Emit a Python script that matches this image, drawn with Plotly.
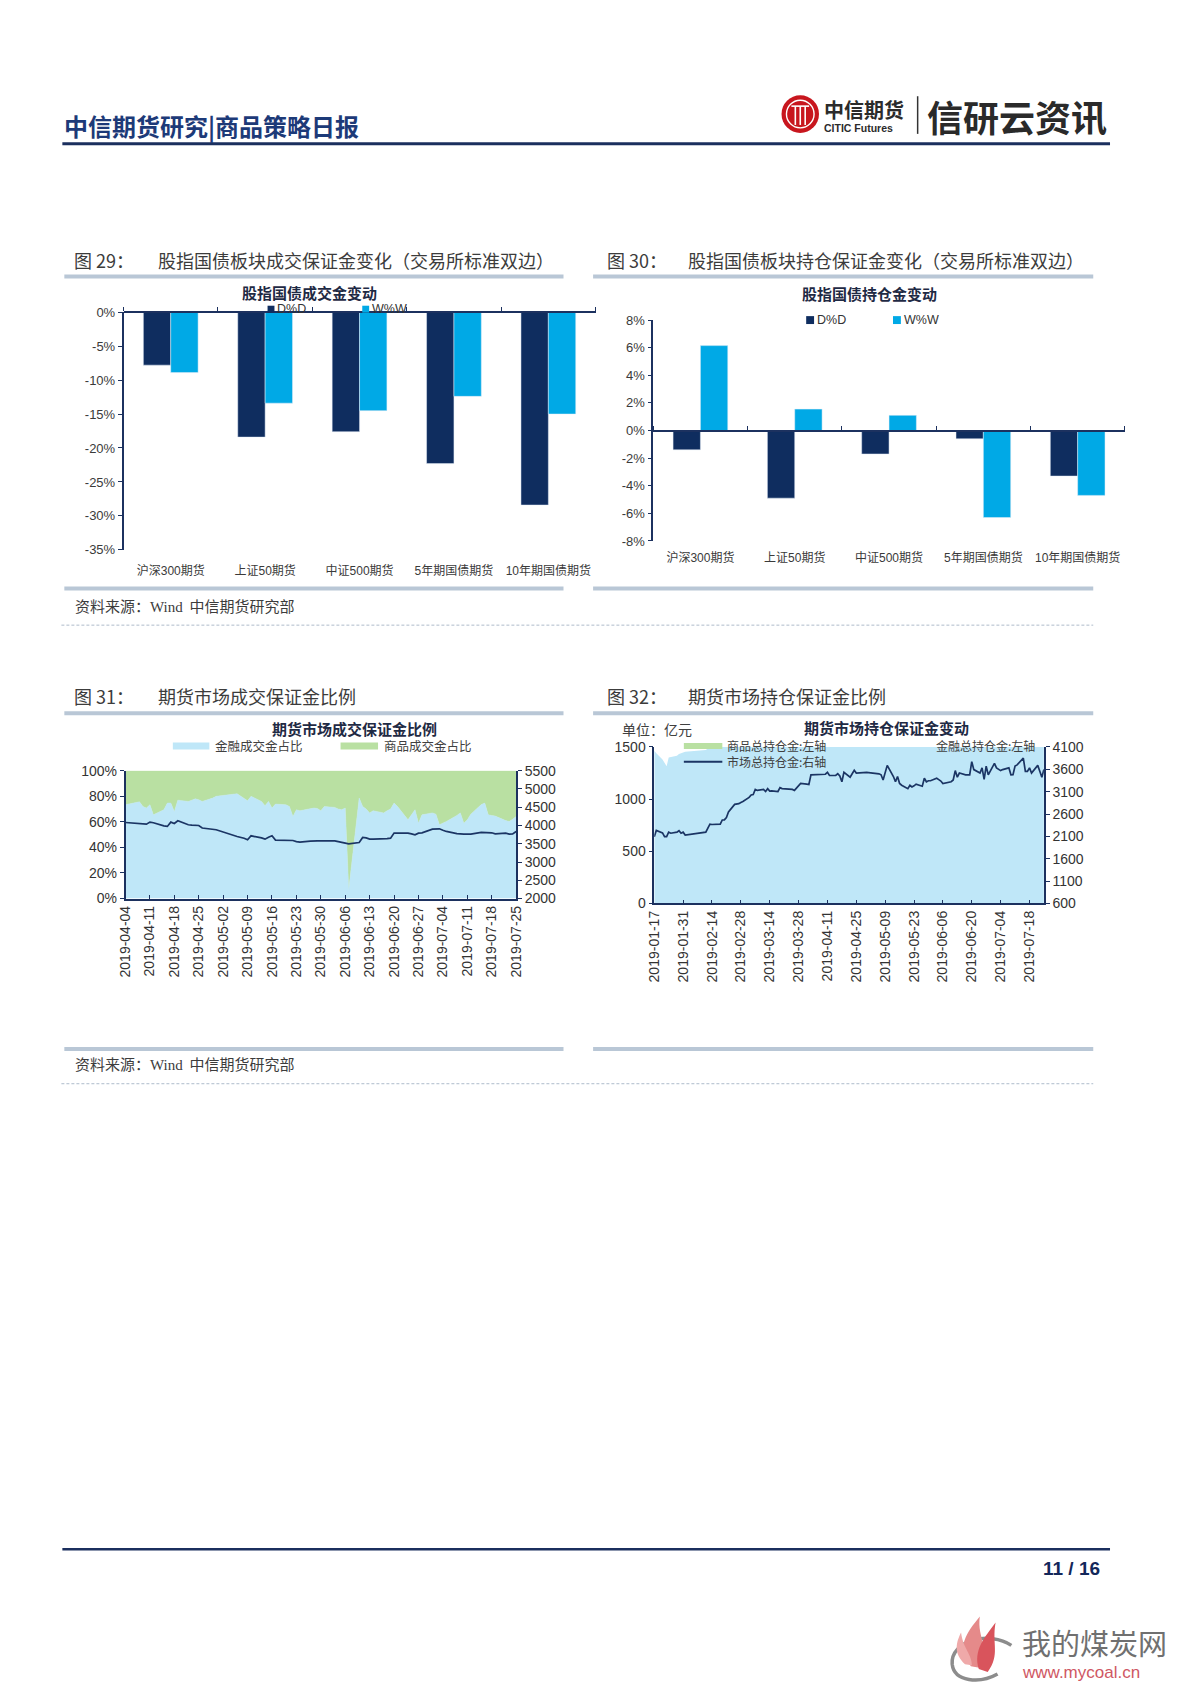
import plotly.graph_objects as go

PAGE_W, PAGE_H = 1200, 1696
BODY = 8                      # default page margin around the plot div
FW, FH = PAGE_W - 2 * BODY, PAGE_H - 2 * BODY
def px(x): return (x - BODY) / FW
def py(y): return 1 - (y - BODY) / FH

NAVY = "#0f2d5f"
CYAN = "#00a9e6"
AXIS = "#1c315f"
LBLUE = "#bfe7f8"
GREEN = "#b9e0a2"
LINEC = "#1b3564"
CAPLINE = "#b9c7d6"
TXT = "#3a3a3a"
CJK = "Noto Sans CJK SC"
LAT = "Liberation Sans, Noto Sans CJK SC"

# ---------------- data ----------------
cats = ["沪深300期货", "上证50期货", "中证500期货", "5年期国债期货", "10年期国债期货"]
turnover_dod = [-7.8, -18.4, -17.6, -22.3, -28.4]
turnover_wow = [-8.9, -13.4, -14.5, -12.4, -15.0]
oi_dod = [-1.4, -4.9, -1.7, -0.6, -3.3]
oi_wow = [6.15, 1.55, 1.1, -6.3, -4.7]

c29_tickvals = [0, -5, -10, -15, -20, -25, -30, -35]
c29_ticktext = ["0%", "-5%", "-10%", "-15%", "-20%", "-25%", "-30%", "-35%"]
c30_tickvals = [8, 6, 4, 2, 0, -2, -4, -6, -8]
c30_ticktext = ["8%", "6%", "4%", "2%", "0%", "-2%", "-4%", "-6%", "-8%"]

d31 = ["04-04", "04-08", "04-09", "04-10", "04-11", "04-12", "04-15", "04-16", "04-17", "04-18", "04-19",
       "04-22", "04-23", "04-24", "04-25", "04-26", "04-29", "04-30",
       "05-06", "05-07", "05-08", "05-09", "05-10", "05-13", "05-14", "05-15", "05-16", "05-17",
       "05-20", "05-21", "05-22", "05-23", "05-24", "05-27", "05-28", "05-29", "05-30", "05-31",
       "06-03", "06-04", "06-05", "06-06", "06-07", "06-10", "06-11", "06-12", "06-13", "06-14",
       "06-17", "06-18", "06-19", "06-20", "06-21", "06-24", "06-25", "06-26", "06-27", "06-28",
       "07-01", "07-02", "07-03", "07-04", "07-05", "07-08", "07-09", "07-10", "07-11", "07-12",
       "07-15", "07-16", "07-17", "07-18", "07-19", "07-22", "07-23", "07-24", "07-25"]
fin_share31 = [73.4, 75.7, 72.0, 70.8, 73.4, 65.5, 69.5, 74.7, 74.7, 68.0, 77.0,
               76.0, 77.0, 78.0, 77.3, 76.0, 78.6, 80.0,
               82.0, 80.0, 78.6, 76.5, 80.0, 76.0, 72.6, 76.0, 70.8, 73.9,
               73.4, 72.0, 64.2, 69.5, 68.7, 70.0, 70.8, 70.5, 68.7, 72.0,
               71.3, 70.0, 69.5, 70.8, 6.8, 78.6, 72.0, 70.0, 67.0, 68.7,
               67.0, 68.7, 70.0, 74.7, 72.0, 61.6, 66.0, 69.5, 59.0, 65.5,
               67.0, 66.0, 57.7, 59.0, 60.3, 65.0, 67.0, 59.0, 61.6, 66.0,
               73.5, 74.7, 65.5, 65.0, 64.5, 61.0, 60.3, 62.0, 64.2]
com_share31 = [26.6, 24.3, 28.0, 29.2, 26.6, 34.5, 30.5, 25.3, 25.3, 32.0, 23.0,
               24.0, 23.0, 22.0, 22.7, 24.0, 21.4, 20.0,
               18.0, 20.0, 21.4, 23.5, 20.0, 24.0, 27.4, 24.0, 29.2, 26.1,
               26.6, 28.0, 35.8, 30.5, 31.3, 30.0, 29.2, 29.5, 31.3, 28.0,
               28.7, 30.0, 30.5, 29.2, 93.2, 21.4, 28.0, 30.0, 33.0, 31.3,
               33.0, 31.3, 30.0, 25.3, 28.0, 38.4, 34.0, 30.5, 41.0, 34.5,
               33.0, 34.0, 42.3, 41.0, 39.7, 35.0, 33.0, 41.0, 38.4, 34.0,
               26.5, 25.3, 34.5, 35.0, 35.5, 39.0, 39.7, 38.0, 35.8]
total31 = [4083, 4060, 4050, 4038, 4093, 4075, 3990, 3974, 4093, 4056, 4129,
           4020, 4010, 4001, 4001, 3930, 3883, 3883,
           3700, 3681, 3650, 3608, 3718, 3660, 3627, 3680, 3718, 3600,
           3590, 3590, 3590, 3560, 3544, 3570, 3581, 3581, 3581, 3581,
           3581, 3560, 3540, 3517, 3499, 3535, 3672, 3660, 3627, 3627,
           3627, 3640, 3654, 3791, 3791, 3791, 3770, 3745, 3791, 3800,
           3900, 3910, 3910, 3870, 3837, 3780, 3764, 3764, 3764, 3764,
           3809, 3809, 3809, 3800, 3773, 3790, 3764, 3770, 3837]

d32 = ["01-17", "01-18", "01-21", "01-22", "01-23", "01-24", "01-25", "01-28", "01-29", "01-30", "01-31",
       "02-01", "02-11", "02-12", "02-13", "02-14", "02-15", "02-18", "02-19", "02-20", "02-21", "02-22",
       "02-25", "02-26", "02-27", "02-28",
       "03-01", "03-04", "03-05", "03-06", "03-07", "03-08", "03-11", "03-12", "03-13", "03-14", "03-15",
       "03-18", "03-19", "03-20", "03-21", "03-22", "03-25", "03-26", "03-27", "03-28", "03-29",
       "04-01", "04-02", "04-03", "04-04", "04-08", "04-09", "04-10", "04-11", "04-12", "04-15", "04-16",
       "04-17", "04-18", "04-19", "04-22", "04-23", "04-24", "04-25", "04-26", "04-29", "04-30",
       "05-06", "05-07", "05-08", "05-09", "05-10", "05-13", "05-14", "05-15", "05-16", "05-17",
       "05-20", "05-21", "05-22", "05-23", "05-24", "05-27", "05-28", "05-29", "05-30", "05-31",
       "06-03", "06-04", "06-05", "06-06", "06-10", "06-11", "06-12", "06-13", "06-14",
       "06-17", "06-18", "06-19", "06-20", "06-21", "06-24", "06-25", "06-26", "06-27", "06-28",
       "07-01", "07-02", "07-03", "07-04", "07-05", "07-08", "07-09", "07-10", "07-11", "07-12",
       "07-15", "07-16", "07-17", "07-18", "07-19", "07-22", "07-23", "07-24", "07-25"]
total32 = [2090, 2233, 2179, 2093, 2093, 2194, 2171, 2194, 2226, 2171, 2194,
           2132, 2194, 2300, 2373, 2366, 2370, 2373, 2467, 2470, 2521, 2646,
           2817, 2820, 2832, 2860,
           2879, 2972, 3027, 3035, 3151, 3128, 3151, 3104, 3167, 3112, 3120,
           3104, 3190, 3170, 3167, 3160, 3151, 3128, 3180, 3229, 3283,
           3270, 3260, 3478, 3478, 3478, 3480, 3490, 3532, 3462, 3462, 3501,
           3450, 3322, 3532, 3423, 3500, 3579, 3517, 3520, 3532, 3530,
           3500, 3478, 3361, 3550, 3688, 3439, 3322, 3439, 3283, 3244,
           3167, 3244, 3205, 3230, 3268, 3221, 3400, 3322, 3345, 3345,
           3400, 3370, 3338, 3283, 3322, 3361, 3571, 3423, 3517,
           3478, 3480, 3478, 3773, 3594, 3517, 3633, 3377, 3672, 3478,
           3734, 3633, 3600, 3571, 3594, 3633, 3478, 3480, 3672, 3700,
           3851, 3555, 3555, 3633, 3517, 3688, 3555, 3423, 3594]
fin32_dates = ["01-17", "01-18", "01-21", "01-22", "01-23", "01-24", "01-25", "01-28", "01-29", "01-30",
               "01-31", "02-01", "02-11", "02-12", "02-13", "03-01", "04-01", "05-10", "06-03", "07-01", "07-25"]
fin32 = [1464, 1440, 1381, 1340, 1315, 1399, 1405, 1417, 1432, 1440,
         1450, 1455, 1470, 1485, 1510, 1530, 1540, 1560, 1540, 1560, 1550]

Y = "2019-"
d31 = [Y + d for d in d31]
d32 = [Y + d for d in d32]
fin32_dates = [Y + d for d in fin32_dates]

# ---------------- traces ----------------
fig = go.Figure()
# chart 29
fig.add_trace(go.Bar(x=cats, y=turnover_dod, marker_color=NAVY, name="D%D", xaxis="x", yaxis="y", showlegend=False))
fig.add_trace(go.Bar(x=cats, y=turnover_wow, marker_color=CYAN, name="W%W", xaxis="x", yaxis="y", showlegend=False))
fig.add_trace(go.Scatter(x=cats, y=[None] * len(cats), mode="lines", xaxis="x5", yaxis="y", showlegend=False, hoverinfo="skip"))
# chart 30
fig.add_trace(go.Bar(x=cats, y=oi_dod, marker_color=NAVY, name="D%D", xaxis="x2", yaxis="y2", showlegend=False))
fig.add_trace(go.Bar(x=cats, y=oi_wow, marker_color=CYAN, name="W%W", xaxis="x2", yaxis="y2", showlegend=False))
fig.add_trace(go.Scatter(x=cats, y=[None] * len(cats), mode="lines", xaxis="x6", yaxis="y2", showlegend=False, hoverinfo="skip"))
# chart 31
fig.add_trace(go.Scatter(x=d31, y=fin_share31, stackgroup="s31", mode="lines", line=dict(width=0.5, color=LBLUE),
                         fillcolor=LBLUE, xaxis="x3", yaxis="y3", showlegend=False, name="金融成交金占比"))
fig.add_trace(go.Scatter(x=d31, y=com_share31, stackgroup="s31", mode="lines", line=dict(width=0.5, color=GREEN),
                         fillcolor=GREEN, xaxis="x3", yaxis="y3", showlegend=False, name="商品成交金占比"))
fig.add_trace(go.Scatter(x=d31, y=total31, mode="lines", line=dict(width=1.7, color=LINEC),
                         xaxis="x3", yaxis="y4", showlegend=False))
# chart 32
fig.add_trace(go.Scatter(x=fin32_dates, y=fin32, fill="tozeroy", mode="lines", line=dict(width=0, color=LBLUE),
                         fillcolor=LBLUE, xaxis="x4", yaxis="y5", showlegend=False, name="金融总持仓金:左轴"))
fig.add_trace(go.Scatter(x=d32, y=total32, mode="lines", line=dict(width=1.7, color=LINEC),
                         xaxis="x4", yaxis="y6", showlegend=False, name="市场总持仓金:右轴"))

# ---------------- axes ----------------
tickf = dict(family=LAT, size=13, color=TXT)
catf = dict(family=LAT, size=12, color=TXT)
tickf14 = dict(family=LAT, size=14, color="#333333")

c29_dom_y = [py(547), py(307)]
c30_dom_y = [py(538), py(315)]
c30_range = [-8, 8]
c30_zero = c30_dom_y[0] + (c30_dom_y[1] - c30_dom_y[0]) * (0 - c30_range[0]) / (c30_range[1] - c30_range[0])

common_y = dict(showgrid=False, zeroline=False, showline=True, linecolor=AXIS, linewidth=1.5,
                ticks="outside", ticklen=4, tickcolor=AXIS)
cat_x = dict(type="category", range=[-0.5, 4.5], showgrid=False, zeroline=False, showline=False,
             ticks="", tickfont=catf)
tick_x = dict(type="category", range=[-0.5, 4.5], showgrid=False, zeroline=False, showline=True,
              linecolor=AXIS, linewidth=1.5, ticks="outside", tickson="boundaries", ticklen=4,
              tickcolor=AXIS, showticklabels=False, side="top", anchor="free")

fig.update_layout(
    xaxis=dict(domain=[px(117), px(595.5)], anchor="y", ticklabelstandoff=12, **cat_x),
    yaxis=dict(domain=c29_dom_y, anchor="x", range=[-35, 0], tickvals=c29_tickvals, ticktext=c29_ticktext,
               tickfont=tickf, **common_y),
    xaxis5=dict(overlaying="x", position=c29_dom_y[1], **tick_x),
    xaxis2=dict(domain=[px(654), px(1132)], anchor="y2", ticklabelstandoff=8, **cat_x),
    yaxis2=dict(domain=c30_dom_y, anchor="x2", range=c30_range, tickvals=c30_tickvals, ticktext=c30_ticktext,
                tickfont=tickf, **common_y),
    xaxis6=dict(overlaying="x2", position=c30_zero, **tick_x),
    xaxis3=dict(domain=[px(119), px(515)], anchor="y3", type="date",
                range=["2019-04-04", "2019-07-25"], tick0="2019-04-04", dtick=7 * 86400000,
                tickformat="%Y-%m-%d", tickangle=-90, ticks="inside", ticklen=4, tickcolor=AXIS,
                showline=True, linecolor=AXIS, linewidth=1.5, showgrid=False, zeroline=False,
                tickfont=tickf14),
    yaxis3=dict(domain=[py(899), py(770)], anchor="x3", range=[0, 100], dtick=20, ticksuffix="%",
                tickfont=tickf14, **common_y),
    yaxis4=dict(overlaying="y3", side="right", anchor="x3", range=[2000, 5500], tick0=2000, dtick=500,
                tickfont=tickf14, **common_y),
    xaxis4=dict(domain=[px(655), px(1050)], anchor="y5", type="date",
                range=["2019-01-17", "2019-07-25"], tick0="2019-01-17", dtick=14 * 86400000,
                tickformat="%Y-%m-%d", tickangle=-90, ticks="inside", ticklen=4, tickcolor=AXIS,
                showline=True, linecolor=AXIS, linewidth=1.5, showgrid=False, zeroline=False,
                tickfont=tickf14),
    yaxis5=dict(domain=[py(904), py(746)], anchor="x4", range=[0, 1500], dtick=500,
                tickfont=tickf14, **common_y),
    yaxis6=dict(overlaying="y5", side="right", anchor="x4", range=[600, 4100], tick0=600, dtick=500,
                tickfont=tickf14, **common_y),
    barmode="group", bargap=0.42, bargroupgap=0,
    width=FW, height=FH, margin=dict(l=0, r=0, t=0, b=0, pad=0),
    paper_bgcolor="white", plot_bgcolor="rgba(0,0,0,0)",
    font=dict(family=LAT, color=TXT),
    showlegend=False,
)

# ---------------- shapes ----------------
shapes = []
def hline(x0, x1, y, color, width, dash=None):
    d = dict(type="line", xref="paper", yref="paper", x0=px(x0), x1=px(x1), y0=py(y), y1=py(y),
             line=dict(color=color, width=width))
    if dash:
        d["line"]["dash"] = dash
    shapes.append(d)

def rect(x0, y0, x1, y1, color):
    shapes.append(dict(type="rect", xref="paper", yref="paper", x0=px(x0), x1=px(x1), y0=py(y1), y1=py(y0),
                       fillcolor=color, line=dict(width=0)))

def path(points_cmd, fill=None, stroke=None, width=0):
    s = ""
    for cmd, pts in points_cmd:
        s += cmd + " ".join("%.5f,%.5f" % (px(a), py(b)) for a, b in pts) + " "
    if fill:
        s += "Z"
    d = dict(type="path", xref="paper", yref="paper", path=s.strip(),
             line=dict(color=stroke or "rgba(0,0,0,0)", width=width))
    if fill:
        d["fillcolor"] = fill
    shapes.append(d)

# header / footer rules
hline(55, 1117, 137, "#1b2f5e", 3)
hline(55, 1117, 1556, "#1b2f5e", 2.5)
# caption rules
for y in (271, 586, 712, 1051):
    hline(57, 563, y, CAPLINE, 4)
    hline(593, 1100, y, CAPLINE, 4)
hline(54, 1100, 623, "#aebbcb", 1, "3px,2px")
hline(54, 1100, 1086, "#aebbcb", 1, "3px,2px")

# legend swatches
rect(263, 300.5, 270, 307.5, NAVY)
rect(359, 300.5, 366, 307.5, CYAN)
rect(809, 311, 817, 319, NAVY)
rect(897, 311, 905, 319, CYAN)
rect(167, 741.5, 204, 748.5, LBLUE)
rect(337, 741.5, 375, 748.5, GREEN)
rect(685, 742, 724, 748, GREEN)
hline(685, 724, 761, LINEC, 2)

# header logo (CITIC)
shapes.append(dict(type="circle", xref="paper", yref="paper", x0=px(784), x1=px(822), y0=py(126), y1=py(88),
                   fillcolor="#c8161e", line=dict(width=0)))
shapes.append(dict(type="circle", xref="paper", yref="paper", x0=px(789), x1=px(817), y0=py(121), y1=py(93),
                   line=dict(color="white", width=1.4)))
for xx in (798, 803, 808):
    shapes.append(dict(type="line", xref="paper", yref="paper", x0=px(xx), x1=px(xx), y0=py(118), y1=py(99),
                       line=dict(color="white", width=1.6)))
shapes.append(dict(type="line", xref="paper", yref="paper", x0=px(794), x1=px(812), y0=py(99), y1=py(99),
                   line=dict(color="white", width=1.6)))
shapes.append(dict(type="line", xref="paper", yref="paper", x0=px(922), x1=px(922), y0=py(127), y1=py(89),
                   line=dict(color="#333333", width=1.5)))

# watermark flame
path([("M", [(1017, 1653)]), ("C", [(995, 1638), (955, 1648), (957, 1672)]),
      ("C", [(959, 1690), (985, 1692), (1003, 1682)])], stroke="#8c8c8c", width=3.5)
path([("M", [(976, 1674)]), ("C", [(960, 1655), (972, 1640), (985, 1624)]),
      ("C", [(982, 1646), (996, 1656), (986, 1676)])], fill="#e58a8a")
path([("M", [(984, 1677)]), ("C", [(978, 1658), (990, 1645), (1001, 1630)]),
      ("C", [(997, 1652), (1006, 1662), (993, 1680)])], fill="#d9545c")
path([("M", [(970, 1672)]), ("C", [(958, 1661), (961, 1650), (966, 1640)]),
      ("C", [(968, 1656), (977, 1662), (977, 1673)])], fill="#efa9a9")

fig.update_layout(shapes=shapes)

# ---------------- annotations ----------------
ann = []
def text(x, y, s, size, color=TXT, family=CJK, anchor="left"):
    ann.append(dict(xref="paper", yref="paper", x=px(x), y=py(y), text=s, showarrow=False, borderpad=0,
                    xanchor=anchor, yanchor="middle", font=dict(family=family, size=size, color=color)))

# header
text(56, 119, "<b>中信期货研究|商品策略日报</b>", 24, "#1d3a78")
text(826, 102, "<b>中信期货</b>", 20, "#2b2b2b")
text(826, 121, "<b>CITIC Futures</b>", 10.5, "#2b2b2b", "Liberation Sans")
text(930, 109, "<b>信研云资讯</b>", 36, "#2a2a2a")
# footer
text(1108, 1575, "<b>11 / 16</b>", 19, "#13275a", "Liberation Sans", "right")
text(1027, 1650, "我的煤炭网", 29, "#707070")
text(1027, 1680, "www.mycoal.cn", 17, "#cf5763", "Liberation Sans")

# captions
text(66, 254, "图 29：", 18, "#3c3c3c")
text(151, 254, "股指国债板块成交保证金变化（交易所标准双边）", 18, "#3c3c3c")
text(606, 254, "图 30：", 18, "#3c3c3c")
text(688, 254, "股指国债板块持仓保证金变化（交易所标准双边）", 18, "#3c3c3c")
text(66, 695, "图 31：", 18, "#3c3c3c")
text(151, 695, "期货市场成交保证金比例", 18, "#3c3c3c")
text(606, 695, "图 32：", 18, "#3c3c3c")
text(688, 695, "期货市场持仓保证金比例", 18, "#3c3c3c")
src = "资料来源：<span style='font-family:Liberation Serif'>Wind</span>  中信期货研究部"
text(67, 603, src, 15, "#3c3c3c")
text(67, 1066, src, 15, "#3c3c3c")

# chart titles
text(306, 287, "<b>股指国债成交金变动</b>", 15, "#1f2a44", anchor="center")
text(873, 288, "<b>股指国债持仓金变动</b>", 15, "#1f2a44", anchor="center")
text(351, 727, "<b>期货市场成交保证金比例</b>", 15, "#1f2a44", anchor="center")
text(890, 726, "<b>期货市场持仓保证金变动</b>", 15, "#1f2a44", anchor="center")

# legends
text(272, 304, "D%D", 12.5, "#333333", "Liberation Sans")
text(368, 304, "W%W", 12.5, "#333333", "Liberation Sans")
text(819, 315, "D%D", 12.5, "#333333", "Liberation Sans")
text(907, 315, "W%W", 12.5, "#333333", "Liberation Sans")
text(209, 745, "金融成交金占比", 12.5, "#404040")
text(380, 745, "商品成交金占比", 12.5, "#404040")
text(728, 745, "商品总持仓金:左轴", 12, "#404040")
text(728, 761, "市场总持仓金:右轴", 12, "#404040")
text(1042, 745, "金融总持仓金:左轴", 12, "#404040", anchor="right")
text(621, 728, "单位：亿元", 14, "#404040")

fig.update_layout(annotations=ann)

fig.write_html("out.html", config={"displayModeBar": False})
